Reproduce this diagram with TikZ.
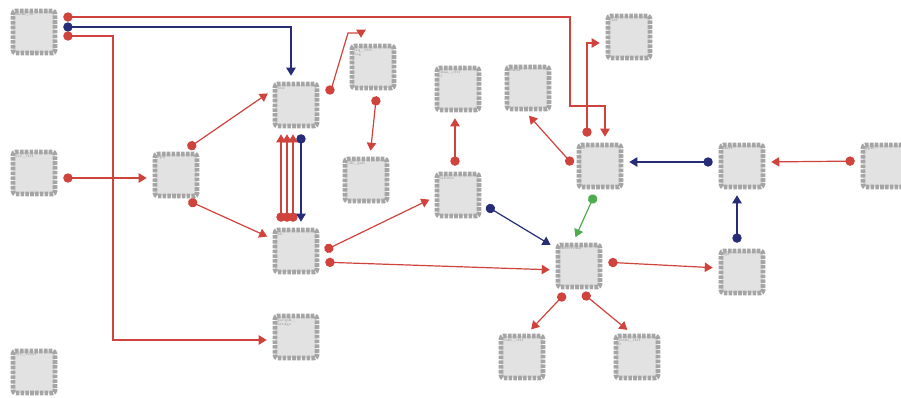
\documentclass[tikz,border=0pt]{standalone}
\usetikzlibrary{arrows.meta,calc}

\definecolor{wirered}{RGB}{208,66,60}
\definecolor{wireblue}{RGB}{38,44,120}
\definecolor{wiregreen}{RGB}{78,172,78}
\definecolor{chipfill}{RGB}{226,226,226}
\definecolor{chippin}{RGB}{165,165,165}
\definecolor{chiptext}{RGB}{140,140,140}

\tikzset{
  x=0.75pt, y=-0.75pt,
  chip/.style={draw=chippin, fill=chipfill, line width=3.4pt,
    dash pattern=on 2.7pt off 0.9pt, rounded corners=2pt,
    minimum width=31.5pt, minimum height=31.5pt, inner sep=0pt,
    label={[chiplbl]north west:#1}},
  chiplbl/.style={anchor=north west, xshift=3.2pt, yshift=-3.4pt,
    inner sep=0pt, align=left, text=chiptext,
    font=\fontsize{2.8}{3.2}\selectfont},
  wire/.style={line width=0.9pt, shorten <=4.5pt, shorten >=4.5pt,
    {Circle[length=7pt]}-{Triangle[length=6pt,width=7pt]}},
  redwire/.style={wire, draw=wirered},
  bluewire/.style={wire, draw=wireblue},
  greenwire/.style={wire, draw=wiregreen},
}

\begin{document}
\begin{tikzpicture}
\useasboundingbox (0,0) rectangle (901,398);
\clip (0,0) rectangle (901,398);

% chips
\node[chip=mem\_io]            (n1)  at (34,32)   {};
\node[chip=sys\_ctrl]          (n2)  at (34,173)  {};
\node[chip=sys\_reset]         (n3)  at (34,372)  {};
\node[chip=cpu]                (n4)  at (176,175) {};
\node[chip=bus]                (n5)  at (296,105) {};
\node[chip=xb]                 (n6)  at (296,251) {};
\node[chip={periph\_\\bridge}] (n7)  at (296,337) {};
\node[chip={irq\_ctrl\\reg}]   (n8)  at (373,67)  {};
\node[chip=clk\_gen]           (n9)  at (366,180) {};
\node[chip={dma\_ctrl\\0}]     (n10) at (458,89)  {};
\node[chip=arbiter]            (n11) at (458,195) {};
\node[chip=timer]              (n12) at (528,88)  {};
\node[chip=io]                 (n13) at (600,166) {};
\node[chip=ddr]                (n14) at (629,37)  {};
\node[chip=uart]               (n15) at (742,166) {};
\node[chip=gpio]               (n16) at (884,166) {};
\node[chip=interconn]          (n17) at (579,266) {};
\node[chip=spi]                (n18) at (742,272) {};
\node[chip=rom\_ctrl]          (n19) at (522,357) {};
\node[chip={sram\_ctrl\\0}]    (n20) at (637,357) {};

% long routed links from the top-left chip
\draw[redwire]  ($(n1.east)+(0,-15)$) -| (570,106) -| ($(n13.north)+(5,0)$);
\draw[bluewire] ($(n1.east)+(0,-5)$) -| ($(n5.north)+(-5,0)$);
\draw[redwire]  ($(n1.east)+(0,4)$) -| (113,340) -- ($(n7.west)+(0,3)$);

% left side
\draw[redwire] ($(n2.east)+(0,5)$) -- ($(n4.west)+(0,3)$);
\draw[redwire] ($(n4.north)+(7,0)$) -- ($(n5.west)+(0,-15)$);
\draw[redwire] ($(n4.south)+(7,0)$) -- ($(n6.west)+(0,-12)$);

% between the two bus chips
\draw[redwire]  ($(n6.north)+(-15,0)$) -- ($(n5.south)+(-15,0)$);
\draw[redwire]  ($(n6.north)+(-9,0)$) -- ($(n5.south)+(-9,0)$);
\draw[redwire]  ($(n6.north)+(-3,0)$) -- ($(n5.south)+(-3,0)$);
\draw[bluewire] ($(n5.south)+(5,0)$) -- ($(n6.north)+(5,0)$);

% upper middle
\draw[redwire] ($(n5.east)+(0,-15)$) -- (331,90) -- (348,33) -| ($(n8.north)+(-12,0)$);
\draw[redwire] ($(n8.south)+(4,0)$) -- ($(n9.north)+(4,0)$);

% from the lower bus chip
\draw[redwire] ($(n6.east)+(0,2)$) -- ($(n11.west)+(0,2)$);
\draw[redwire] ($(n6.east)+(0,11)$) -- ($(n17.west)+(0,4)$);

% arbiter
\draw[redwire]  ($(n11.north)+(-3,0)$) -- ($(n10.south)+(-3,0)$);
\draw[bluewire] ($(n11.east)+(0,8)$) -- ($(n17.west)+(0,-18)$);

% io chip
\draw[redwire]   ($(n13.west)+(0,3)$) -- ($(n12.south)+(-3,0)$);
\draw[redwire]   ($(n13.north)+(-13,0)$) |- ($(n14.west)+(0,6)$);
\draw[greenwire] ($(n13.south)+(-3,0)$) -- ($(n17.north)+(-6,0)$);

% right side
\draw[bluewire] ($(n15.west)+(0,-4)$) -- ($(n13.east)+(0,-4)$);
\draw[redwire]  ($(n16.west)+(0,-5)$) -- ($(n15.east)+(0,-4)$);
\draw[bluewire] ($(n18.north)+(-5,0)$) -- ($(n15.south)+(-5,0)$);

% interconnect fan-out
\draw[redwire] ($(n17.east)+(0,-4)$) -- ($(n18.west)+(0,-4)$);
\draw[redwire] ($(n17.south)+(-10,0)$) -- ($(n19.north)+(5,0)$);
\draw[redwire] ($(n17.south)+(-1,0)$) -- ($(n20.north)+(-5,0)$);
\end{tikzpicture}
\end{document}
